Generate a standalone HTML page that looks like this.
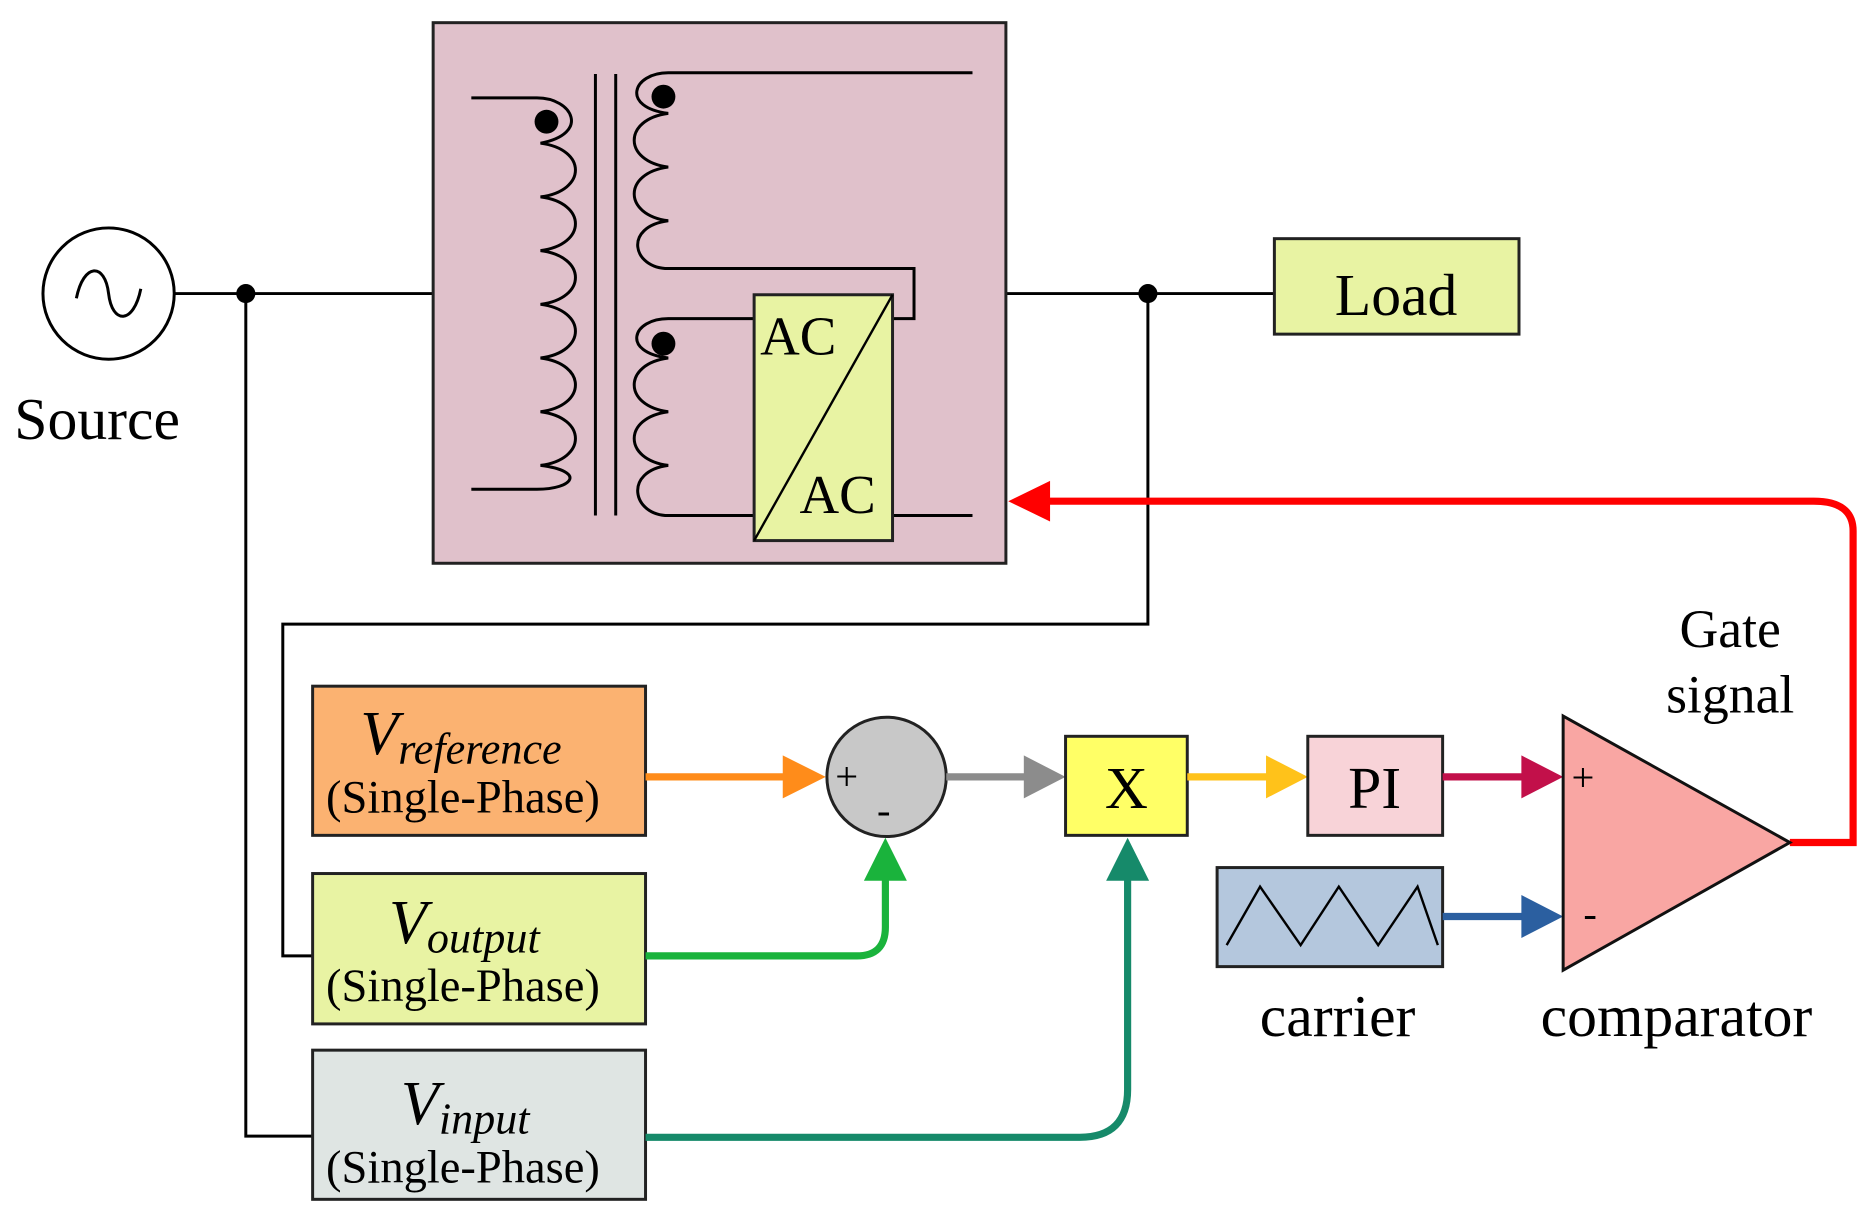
<!DOCTYPE html>
<html><head><meta charset="utf-8"><style>
html,body{margin:0;padding:0;background:#fff;}
svg{display:block;}
text{font-family:"Liberation Serif",serif;fill:#000;}
</style></head><body>
<svg width="1871" height="1222" viewBox="0 0 1568 1024" preserveAspectRatio="none" xmlns="http://www.w3.org/2000/svg">
<!-- source -->
<circle cx="91" cy="246" r="55" fill="#fff" stroke="#000" stroke-width="2.5"/>
<path d="M64,250 C70,220 88,220 91,246 C94,272 112,272 118,242" fill="none" stroke="#000" stroke-width="2.5"/>
<text x="12" y="368" font-size="50">Source</text>
<g stroke="#000" stroke-width="2.5" fill="none">
<path d="M146,246 H363"/>
<path d="M206,246 V952 H262"/>
<path d="M843,246 H1068"/>
<path d="M962,246 V523 H237 V801 H262"/>
</g>
<circle cx="206" cy="246" r="8"/>
<circle cx="962" cy="246" r="8"/>
<!-- transformer box -->
<rect x="363" y="19" width="480" height="453" fill="#e0c1cb" stroke="#222" stroke-width="2.5"/>
<g stroke="#000" stroke-width="2.5" fill="none">
<path d="M395,82 H450 C480,82 495,112 453,120 C492,125 492,160 453,165 C492,170 492,205 453,210 C492,215 492,250 453,255 C492,260 492,295 453,300 C492,305 492,340 453,345 C492,350 492,385 453,390 C492,395 480,410 450,410 H395"/>
<path d="M499,62 V432 M516,62 V432"/>
<path d="M815,61 H560 C530,61 520,90 560,95 C522,100 522,135 560,140 C522,145 522,180 560,185 C522,190 530,225 560,225 H766 V267 H748"/>
<path d="M632,267 H560 C530,267 520,295 560,300 C522,305 522,340 560,345 C522,350 522,385 560,390 C522,395 530,432 560,432 H632"/>
<path d="M748,432 H815"/>
</g>
<circle cx="458" cy="102" r="10"/>
<circle cx="556" cy="81" r="10"/>
<circle cx="556" cy="288" r="10"/>
<rect x="632" y="247" width="116" height="206" fill="#e8f3a3" stroke="#222" stroke-width="2.5"/>
<path d="M632,453 L748,247" stroke="#000" stroke-width="2"/>
<text x="637" y="297" font-size="46">AC</text>
<text x="670" y="430" font-size="46">AC</text>
<!-- load -->
<rect x="1068" y="200" width="205" height="80" fill="#e8f3a3" stroke="#222" stroke-width="2.5"/>
<text x="1170" y="264" font-size="50" text-anchor="middle">Load</text>
<!-- red feedback -->
<path d="M1500,706 H1553 V445 Q1553,420 1520,420 H875" fill="none" stroke="#ff0000" stroke-width="6"/>
<polygon points="845,420 880,403 880,437" fill="#ff0000"/>
<text x="1450" y="542" font-size="45" text-anchor="middle">Gate</text>
<text x="1450" y="597" font-size="45" text-anchor="middle">signal</text>
<!-- input boxes -->
<rect x="262" y="575" width="279" height="125" fill="#fbb271" stroke="#222" stroke-width="2.5"/>
<text x="302" y="632" font-size="52" font-style="italic">V<tspan font-size="37" dy="8">reference</tspan></text>
<text x="388" y="681" font-size="39" text-anchor="middle">(Single-Phase)</text>
<rect x="262" y="732" width="279" height="126" fill="#e8f3a3" stroke="#222" stroke-width="2.5"/>
<text x="326" y="790" font-size="52" font-style="italic">V<tspan font-size="37" dy="8">output</tspan></text>
<text x="388" y="839" font-size="39" text-anchor="middle">(Single-Phase)</text>
<rect x="262" y="880" width="279" height="125" fill="#dfe5e3" stroke="#222" stroke-width="2.5"/>
<text x="336" y="942" font-size="52" font-style="italic">V<tspan font-size="37" dy="8">input</tspan></text>
<text x="388" y="991" font-size="39" text-anchor="middle">(Single-Phase)</text>
<!-- sum -->
<circle cx="743" cy="651" r="50" fill="#c8c8c8" stroke="#222" stroke-width="2.5"/>
<text x="700" y="662" font-size="34">+</text>
<text x="735" y="690" font-size="34">-</text>
<!-- arrows -->
<path d="M541,651 H660" stroke="#ff8c1a" stroke-width="6"/>
<polygon points="692,651 656,633 656,669" fill="#ff8c1a"/>
<path d="M793,651 H862" stroke="#8c8c8c" stroke-width="6"/>
<polygon points="893,651 858,633 858,669" fill="#8c8c8c"/>
<rect x="893" y="617" width="102" height="83" fill="#ffff66" stroke="#222" stroke-width="2.5"/>
<text x="944" y="677" font-size="50" text-anchor="middle">X</text>
<path d="M995,651 H1064" stroke="#ffc21a" stroke-width="6"/>
<polygon points="1096,651 1061,633 1061,669" fill="#ffc21a"/>
<rect x="1096" y="617" width="113" height="83" fill="#f8d3d8" stroke="#222" stroke-width="2.5"/>
<text x="1152" y="677" font-size="50" text-anchor="middle">PI</text>
<path d="M1209,651 H1278" stroke="#c2104a" stroke-width="6"/>
<polygon points="1310,651 1275,633 1275,669" fill="#c2104a"/>
<rect x="1020" y="727" width="189" height="83" fill="#b4c7dd" stroke="#222" stroke-width="2.5"/>
<path d="M1028,792 L1056,743 L1090,792 L1122,743 L1155,792 L1188,743 L1205,792" fill="none" stroke="#000" stroke-width="2"/>
<path d="M1209,768 H1278" stroke="#2b5fa0" stroke-width="6"/>
<polygon points="1310,768 1275,750 1275,786" fill="#2b5fa0"/>
<polygon points="1310,600 1310,813 1500,706" fill="#f9a6a3" stroke="#111" stroke-width="2.5"/>
<text x="1317" y="663" font-size="34">+</text>
<text x="1327" y="777" font-size="34">-</text>
<text x="1121" y="868" font-size="50" text-anchor="middle">carrier</text>
<text x="1405" y="868" font-size="50" text-anchor="middle">comparator</text>
<!-- green -->
<path d="M541,801 H718 Q742,801 742,777 V730" fill="none" stroke="#1ab33c" stroke-width="6"/>
<polygon points="742,702 724,738 760,738" fill="#1ab33c"/>
<path d="M541,953 H905 Q945,953 945,913 V730" fill="none" stroke="#168a6a" stroke-width="6"/>
<polygon points="945,702 927,738 963,738" fill="#168a6a"/>
</svg>
</body></html>
